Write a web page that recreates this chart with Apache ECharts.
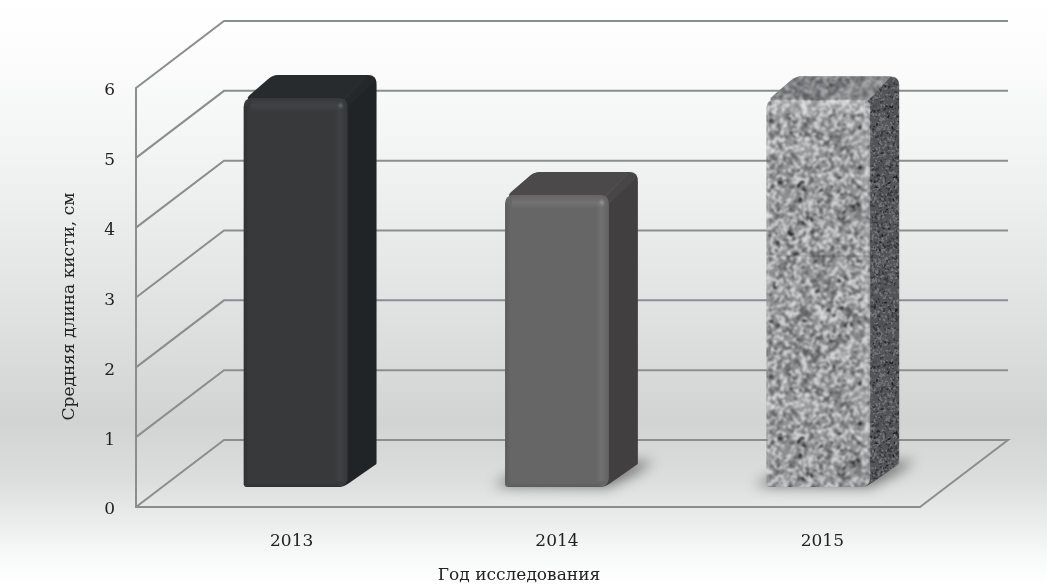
<!DOCTYPE html>
<html>
<head>
<meta charset="utf-8">
<style>html,body{margin:0;padding:0;background:#fff}#c{width:1047px;height:586px}</style>
<script src="https://cdn.jsdelivr.net/npm/echarts@6/dist/echarts.min.js"></script>
</head>
<body>
<div id="c"></div>
<script>
const categories = ['2013', '2014', '2015'];
const barValues = [5.57, 4.18, 5.55];
const yTicks = [0, 1, 2, 3, 4, 5, 6];
const xAxisTitle = 'Год исследования';
const yAxisTitle = 'Средняя длина кисти, см';

const FONT = '"DejaVu Serif", serif';
const WALL = [88, -67];        // depth of the back wall
const BAR_OFFSET = [29, -20];  // bar's front plane relative to the chart's front plane
const BAR_DEPTH = [29, -23];
const LINE = '#8b8e8e';

// Deterministic speckle used only as the granite surface fill of the third bar
function speckle(size, colors, dotScale, blur) {
  const raw = document.createElement('canvas');
  raw.width = raw.height = size;
  const g = raw.getContext('2d');
  g.fillStyle = colors.base; g.fillRect(0, 0, size, size);
  let s = 20131;
  const next = () => (s = (s * 48271) % 2147483647) / 2147483647;
  const count = size * size / 5;
  for (let i = 0; i < count; i++) {
    const x = next() * size, y = next() * size, r = (0.8 + next() * 1.2) * dotScale, t = next(), a = next() * 3.14;
    g.fillStyle = t < 0.45 ? colors.light : (t < 0.73 ? colors.mid : (t < 0.965 ? colors.base : colors.dark));
    for (const ox of (x < 6 ? [0, size] : x > size - 6 ? [0, -size] : [0])) {
      for (const oy of (y < 6 ? [0, size] : y > size - 6 ? [0, -size] : [0])) {
        g.beginPath(); g.ellipse(x + ox, y + oy, r * 1.5, r * 0.75, a, 0, 7); g.fill();
      }
    }
  }
  const out = document.createElement('canvas');
  out.width = out.height = size;
  const o = out.getContext('2d');
  o.filter = 'blur(' + blur + 'px)';
  for (const dx of [-size, 0, size]) for (const dy of [-size, 0, size]) o.drawImage(raw, dx, dy);
  return out;
}
const graniteFront = { image: speckle(256, { base: '#8c8e90', light: '#d8d9da', mid: '#5a5c5e', dark: '#16181a' }, 0.95, 0.85), repeat: 'repeat' };
const graniteTop = { image: speckle(256, { base: '#7c7e7f', light: '#b0b1b2', mid: '#585a5e', dark: '#26282a' }, 0.85, 0.8), repeat: 'repeat' };
const graniteSide = { image: speckle(256, { base: '#525456', light: '#75777a', mid: '#34363a', dark: '#1c1e20' }, 0.65, 0.65), repeat: 'repeat' };

const barStyles = [
  { front: '#37393b', top: '#282b2d', side: '#212426', bevel: '66,69,71', spot: '#6a6d6e', edge: '43,45,47', textured: false, floor: false },
  { front: '#666666', top: '#4b494a', side: '#413f40', bevel: '118,118,118', spot: '#9a9a9a', edge: '88,88,88', textured: false, floor: true },
  { front: graniteFront, top: graniteTop, side: graniteSide, textured: true, floor: true }
];

function rounded(pts, radii) {
  const out = [], n = pts.length;
  for (let i = 0; i < n; i++) {
    const p = pts[i], a = pts[(i + n - 1) % n], b = pts[(i + 1) % n], r = radii[i];
    if (!r) { out.push(p); continue; }
    const la = Math.hypot(a[0] - p[0], a[1] - p[1]), lb = Math.hypot(b[0] - p[0], b[1] - p[1]);
    const s = [p[0] + (a[0] - p[0]) * r / la, p[1] + (a[1] - p[1]) * r / la];
    const e = [p[0] + (b[0] - p[0]) * r / lb, p[1] + (b[1] - p[1]) * r / lb];
    for (let k = 0; k <= 6; k++) {
      const t = k / 6, u = 1 - t;
      out.push([u * u * s[0] + 2 * u * t * p[0] + t * t * e[0], u * u * s[1] + 2 * u * t * p[1] + t * t * e[1]]);
    }
  }
  return out;
}
const grad = (x2, y2, stops) => new echarts.graphic.LinearGradient(0, 0, x2, y2,
  stops.map(s => ({ offset: s[0], color: s[1] })));
const band3 = (rgb, peak) => [[0, 'rgba(' + rgb + ',0)'], [0.5, 'rgba(' + rgb + ',' + peak + ')'], [1, 'rgba(' + rgb + ',0)']];

function renderWall(params, api) {
  const p = api.coord([0, api.value(0)]);
  const y = p[1];
  const line = api.coord([2, api.value(0)]);
  const halfBand = api.size([1, 0])[0] / 2;
  const x0 = p[0] - halfBand, x1 = line[0] + halfBand;
  const style = { fill: null, stroke: LINE, lineWidth: 2 };
  const pts = [[x0, y], [x0 + WALL[0], y + WALL[1]], [x1 + WALL[0], y + WALL[1]]];
  if (api.value(0) === 0) pts.push([x1, y]);
  return { type: 'polyline', shape: { points: pts }, style };
}

function renderBar(params, api) {
  const i = api.value(0), st = barStyles[i];
  const band = api.size([1, 0])[0];
  const w = band * 0.397;
  const top = api.coord([i, api.value(1)]);
  const base = api.coord([i, 0]);
  const xl = top[0] + BAR_OFFSET[0] - w / 2, xr = xl + w;
  const yt = top[1] + BAR_OFFSET[1], yb = base[1] + BAR_OFFSET[1];
  const dx = BAR_DEPTH[0], dy = BAR_DEPTH[1];
  const kids = [];
  if (st.floor) {
    // only the blurred drop shadow lands in view: the source shape sits off-canvas
    const off = 3000;
    kids.push({ type: 'polygon', shape: { points: [[xl - 12 - off, yb - 1], [xl + 10 - off, yb - 14], [xr + dx + 16 - off, yb + dy - 4], [xr + dx + 2 - off, yb + dy + 7], [xr - off, yb]] },
      style: { fill: '#000', shadowBlur: 13, shadowOffsetX: off, shadowColor: 'rgba(95,97,97,0.85)' } });
  }
  kids.push({ type: 'polygon', shape: { points: rounded(
    [[xl + 10, yt + 2], [xl + dx, yt + dy], [xr + dx, yt + dy], [xr + dx, yb + dy], [xr - 4, yb], [xl + 10, yb]], [0, 6, 9, 1, 6, 0]) },
    style: { fill: st.side } });
  kids.push({ type: 'polygon', shape: { points: rounded(
    [[xl, yt + 2], [xl + dx, yt + dy], [xr + dx - 8, yt + dy], [xr - 4, yt + 3]], [9, 6, 3, 2]) },
    style: { fill: st.top } });
  if (!st.textured) {
    kids.push({ type: 'line', shape: { x1: xr - 1, y1: yt + 4, x2: xr + dx - 6, y2: yt + dy + 4 },
      style: { stroke: 'rgba(' + st.bevel + ',0.14)', lineWidth: 9, lineCap: 'round' } });
  }
  kids.push({ type: 'polygon', shape: { points: rounded(
    [[xl, yt], [xr, yt], [xr, yb], [xl, yb]], [9, 9, 10, 3]) }, style: { fill: st.front } });
  if (!st.textured) {
    kids.push({ type: 'rect', shape: { x: xr - 13, y: yt + 8, width: 11, height: yb - yt - 14 },
      style: { fill: grad(1, 0, band3(st.bevel, 0.7)) } });
    kids.push({ type: 'rect', shape: { x: xl + 7, y: yt + 1, width: w - 12, height: 13 },
      style: { fill: grad(0, 1, band3(st.bevel, 0.8)) } });
    kids.push({ type: 'rect', shape: { x: xl, y: yt + 8, width: 5, height: yb - yt - 10 },
      style: { fill: grad(1, 0, [[0, 'rgba(' + st.edge + ',0.8)'], [1, 'rgba(' + st.edge + ',0)']]) } });
    kids.push({ type: 'rect', shape: { x: xl + 3, y: yb - 4, width: w - 12, height: 4 },
      style: { fill: grad(0, 1, [[0, 'rgba(' + st.edge + ',0)'], [1, 'rgba(' + st.edge + ',0.8)']]) } });
    kids.push({ type: 'circle', shape: { cx: xr - 7, cy: yt + 7.5, r: 4.5 },
      style: { fill: new echarts.graphic.RadialGradient(0.5, 0.5, 0.5, [
        { offset: 0, color: st.spot }, { offset: 1, color: 'rgba(' + st.bevel + ',0)' }]) } });
  } else {
    kids.push({ type: 'rect', shape: { x: xl + 5, y: yt + 1, width: w - 10, height: 15 },
      style: { fill: grad(0, 1, [[0, 'rgba(255,255,255,0.3)'], [0.8, 'rgba(255,255,255,0.22)'], [1, 'rgba(255,255,255,0)']]) } });
    kids.push({ type: 'rect', shape: { x: xr - 10, y: yt + 14, width: 10, height: yb - yt - 18 },
      style: { fill: grad(1, 0, [[0, 'rgba(255,255,255,0)'], [0.6, 'rgba(255,255,255,0.15)'], [1, 'rgba(60,60,60,0.22)']]) } });
  }
  return { type: 'group', children: kids };
}

const chart = echarts.init(document.getElementById('c'), null, { renderer: 'canvas' });
chart.setOption({
  animation: false,
  backgroundColor: { type: 'linear', x: 0, y: 0, x2: 0, y2: 1, colorStops: [
    { offset: 0, color: '#ffffff' },
    { offset: 0.1, color: '#fcfcfc' },
    { offset: 0.25, color: '#f3f4f4' },
    { offset: 0.45, color: '#e6e8e8' },
    { offset: 0.72, color: '#d2d4d4' },
    { offset: 0.82, color: '#dcdede' },
    { offset: 0.88, color: '#e9ebeb' },
    { offset: 0.95, color: '#f8f9f9' },
    { offset: 1, color: '#ffffff' }
  ] },
  grid: [
    { left: 136, width: 784, top: 88, height: 419, outerBoundsMode: 'none' },
    { left: 159, width: 796, top: 88, height: 419, outerBoundsMode: 'none' }
  ],
  xAxis: [
    { type: 'category', gridIndex: 0, data: categories, z: 3,
      axisLine: { onZero: false, lineStyle: { color: LINE, width: 2 } },
      axisTick: { show: false }, axisLabel: { show: false },
      name: xAxisTitle, nameLocation: 'middle', nameGap: 60,
      nameTextStyle: { fontFamily: FONT, fontSize: 17, color: '#222', padding: [0, 18, 0, 0] } },
    { type: 'category', gridIndex: 1, data: categories,
      axisLine: { show: false }, axisTick: { show: false },
      axisLabel: { margin: 26, fontFamily: FONT, fontSize: 17, color: '#222' } }
  ],
  yAxis: [
    { type: 'value', gridIndex: 0, min: 0, max: 6, interval: 1, z: 3,
      axisLine: { show: true, lineStyle: { color: LINE, width: 2 } },
      axisTick: { show: false }, splitLine: { show: false },
      axisLabel: { margin: 21, fontFamily: FONT, fontSize: 17, color: '#222', verticalAlign: 'top', lineHeight: 6 },
      name: yAxisTitle, nameLocation: 'middle', nameGap: 58, nameRotate: 90,
      nameTextStyle: { fontFamily: FONT, fontSize: 17, color: '#222', padding: [0, 18, 0, 0] } },
    { type: 'value', gridIndex: 1, min: 0, max: 6, show: false }
  ],
  series: [
    { type: 'custom', name: 'wall', xAxisIndex: 0, yAxisIndex: 0, z: 1, silent: true, clip: false,
      renderItem: renderWall, data: yTicks.map(v => [v]), encode: { y: 0 } },
    { type: 'custom', name: 'bars', xAxisIndex: 0, yAxisIndex: 0, z: 2, silent: true, clip: false,
      renderItem: renderBar, data: barValues.map((v, i) => [i, v]), encode: { x: 0, y: 1 } }
  ]
});
</script>
</body>
</html>
